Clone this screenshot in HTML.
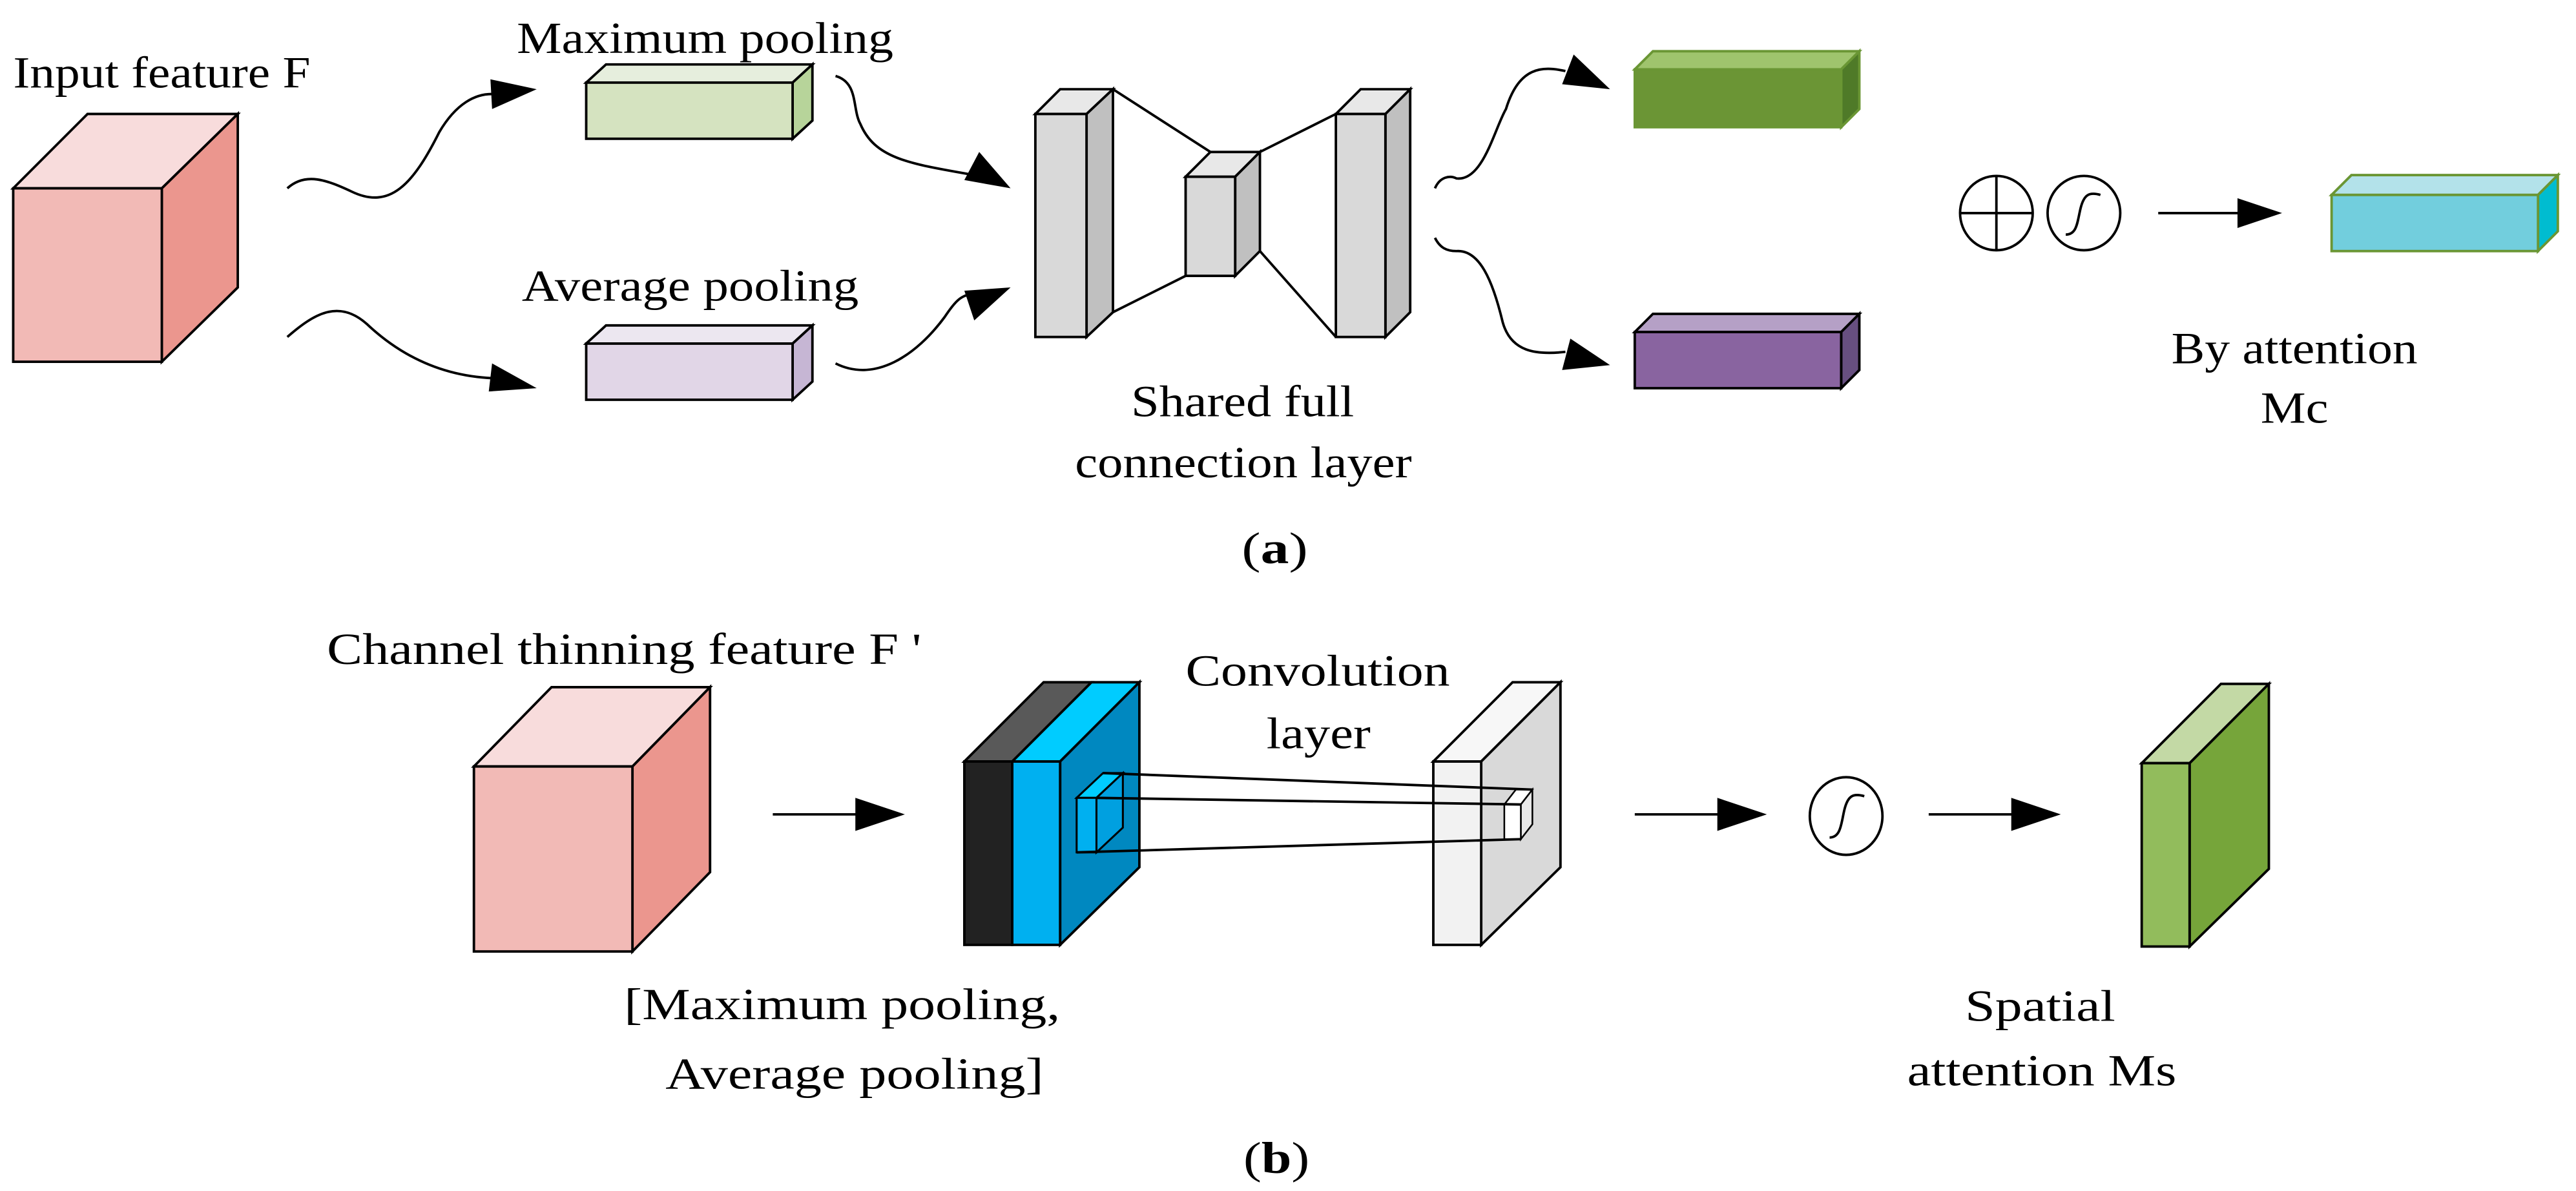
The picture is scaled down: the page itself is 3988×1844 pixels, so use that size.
<!DOCTYPE html>
<html><head><meta charset="utf-8"><style>
html,body{margin:0;padding:0;background:#fff;}
svg{display:block;}
text{font-family:"Liberation Serif","Times New Roman",Times,serif;fill:#000;}
</style></head><body>
<svg width="3988" height="1844" viewBox="0 0 1560 721" preserveAspectRatio="none" xmlns="http://www.w3.org/2000/svg">
<g stroke="#000" stroke-width="1.5" stroke-linejoin="miter">
<polygon points="8,114 53,69 144,69 98,114" fill="#f8dcdc"/>
<polygon points="98,114 144,69 144,174 98,219" fill="#eb968e"/>
<rect x="8" y="114" width="90" height="105" fill="#f2bab6"/>
<polygon points="355,50 367,39 492,39 480,50" fill="#e6eedd"/>
<polygon points="480,50 492,39 492,73 480,84" fill="#b7d49a"/>
<rect x="355" y="50" width="125" height="34" fill="#d5e3c0"/>
<polygon points="355,208 367,197 492,197 480,208" fill="#ece7f0"/>
<polygon points="480,208 492,197 492,231 480,242" fill="#c6b6d4"/>
<rect x="355" y="208" width="125" height="34" fill="#e1d6e7"/>
<polygon points="627,69 642,54 674,54 658,69" fill="#e8e8e8"/>
<polygon points="658,69 674,54 674,189 658,204" fill="#c0c0c0"/>
<rect x="627" y="69" width="31" height="135" fill="#d9d9d9"/>
<polygon points="718,107 733,92 763,92 748,107" fill="#e8e8e8"/>
<polygon points="748,107 763,92 763,152 748,167" fill="#c0c0c0"/>
<rect x="718" y="107" width="30" height="60" fill="#d9d9d9"/>
<polygon points="809,69 824,54 854,54 839,69" fill="#e8e8e8"/>
<polygon points="839,69 854,54 854,189 839,204" fill="#c0c0c0"/>
<rect x="809" y="69" width="30" height="135" fill="#d9d9d9"/>
<g fill="none">
<line x1="674" y1="54" x2="733" y2="92"/>
<line x1="674" y1="189" x2="718" y2="167"/>
<line x1="763" y1="92" x2="809" y2="69"/>
<line x1="763" y1="152" x2="809" y2="204"/>
</g>
<polygon points="990,42 1001,31 1126,31 1115,42" fill="#9fc46d" stroke="#6a9634"/>
<polygon points="1115,42 1126,31 1126,66 1115,77" fill="#4f7a28" stroke="#6a9634"/>
<rect x="990" y="42" width="125" height="35" fill="#6b9535" stroke="#6a9634"/>
<polygon points="990,201 1001,190 1126,190 1115,201" fill="#b5a0c6"/>
<polygon points="1115,201 1126,190 1126,224 1115,235" fill="#674f80"/>
<rect x="990" y="201" width="125" height="34" fill="#8964a0"/>
<polygon points="1412,118 1424,106 1549,106 1537,118" fill="#b3e2ea" stroke="#6a9634"/>
<polygon points="1537,118 1549,106 1549,140 1537,152" fill="#00bcd0" stroke="#6a9634"/>
<rect x="1412" y="118" width="125" height="34" fill="#72cedd" stroke="#6a9634"/>
<ellipse cx="1209" cy="129" rx="22" ry="22.5" fill="none"/>
<line x1="1187" y1="129" x2="1231" y2="129"/>
<line x1="1209" y1="106.5" x2="1209" y2="151.5"/>
<ellipse cx="1262" cy="129" rx="22" ry="22.5" fill="none"/>
<path d="M1251,142 C1258,142 1258,134 1260,126 C1262,118 1265,116 1272,118" fill="none"/>
<line x1="1307" y1="129" x2="1358" y2="129"/>
<g fill="none">
<path d="M174,114 C185,104 198,109 213,116 C236,127 250,112 266,80 C276,63 288,56 300,57"/>
<path d="M174,204 C190,190 205,181 222,196 C240,213 265,228 300,229"/>
<path d="M506,46 C520,50 516,66 521,75 C530,96 550,99 590,106"/>
<path d="M506,220 C530,232 555,215 572,192 C578,183 582,178 590,178"/>
<path d="M869,114 C872,107 878,106 882,108 C898,110 905,78 912,66 C920,40 934,40 948,43"/>
<path d="M869,144 C872,150 876,152 882,152 C896,151 904,170 910,195 C915,213 930,215 948,213"/>
</g>
</g>
<g fill="#000">
<polygon points="325,54 297,48 298,66"/>
<polygon points="325,235 298,220 296,237"/>
<polygon points="612,114 593,92 584,109"/>
<polygon points="612,174 584,176 590,194"/>
<polygon points="975,54 953,33 946,51"/>
<polygon points="975,221 951,205 946,224"/>
<polygon points="1382,129 1355,120 1355,138"/>
</g>
<g stroke="#000" stroke-width="1.5">
<polygon points="287,464 334,416 430,416 383,464" fill="#f8dcdc"/>
<polygon points="383,464 430,416 430,528 383,576" fill="#eb968e"/>
<rect x="287" y="464" width="96" height="112" fill="#f2bab6"/>
<line x1="468" y1="493" x2="522" y2="493"/>
<polygon points="584,461 632,413 661,413 613,461" fill="#595959"/>
<polygon points="613,461 661,413 690,413 642,461" fill="#00ccff"/>
<polygon points="642,461 690,413 690,525 642,572" fill="#0088c0"/>
<rect x="584" y="461" width="29" height="111" fill="#222"/>
<rect x="613" y="461" width="29" height="111" fill="#00b0f0"/>
<polygon points="652,483 668,468 680,468 664,483" fill="#00ccff" stroke-width="1.2"/>
<polygon points="664,483 680,468 680,501 664,516" fill="#00a0e0" stroke-width="1.2"/>
<rect x="652" y="483" width="12" height="33" fill="#00b0f0" stroke-width="1.2"/>
<polygon points="868,461 916,413 945,413 897,461" fill="#f7f7f7"/>
<polygon points="897,461 945,413 945,525 897,572" fill="#d9d9d9"/>
<rect x="868" y="461" width="29" height="111" fill="#f2f2f2"/>
<polygon points="911,487 918,478 928,478 921,487" fill="#fff" stroke-width="1"/>
<polygon points="921,487 928,478 928,499 921,508" fill="#e8e8e8" stroke-width="1"/>
<rect x="911" y="487" width="10" height="21" fill="#fff" stroke-width="1"/>
<g fill="none">
<line x1="668" y1="468" x2="928" y2="478"/>
<line x1="664" y1="483" x2="921" y2="487"/>
<line x1="652" y1="516" x2="921" y2="508"/>
</g>
<line x1="990" y1="493" x2="1044" y2="493"/>
<ellipse cx="1118" cy="494" rx="22" ry="23.5" fill="none"/>
<path d="M1108,507 C1115,507 1115,498 1117,490 C1119,482 1122,480 1129,482" fill="none"/>
<line x1="1168" y1="493" x2="1222" y2="493"/>
<polygon points="1297,462 1345,414 1374,414 1326,462" fill="#c3d9a5"/>
<polygon points="1326,462 1374,414 1374,526 1326,573" fill="#76a53a"/>
<rect x="1297" y="462" width="29" height="111" fill="#92bc5c"/>
</g>
<g fill="#000">
<polygon points="548,493 518,483 518,503"/>
<polygon points="1070,493 1040,483 1040,503"/>
<polygon points="1248,493 1218,483 1218,503"/>
</g>
<g font-size="27" font-family="Liberation Serif, Times New Roman, serif">
<text x="8" y="53" textLength="180" lengthAdjust="spacingAndGlyphs">Input feature F</text>
<text x="313" y="32" textLength="228" lengthAdjust="spacingAndGlyphs">Maximum pooling</text>
<text x="316" y="182" textLength="204" lengthAdjust="spacingAndGlyphs">Average pooling</text>
<text x="685" y="252" textLength="135" lengthAdjust="spacingAndGlyphs">Shared full</text>
<text x="651" y="289" textLength="204" lengthAdjust="spacingAndGlyphs">connection layer</text>
<text x="1315" y="220" textLength="149" lengthAdjust="spacingAndGlyphs">By attention</text>
<text x="1369" y="256" textLength="41" lengthAdjust="spacingAndGlyphs">Mc</text>
<text x="752" y="341" textLength="40" lengthAdjust="spacingAndGlyphs">(<tspan font-weight="bold">a</tspan>)</text>
<text x="198" y="402" textLength="360" lengthAdjust="spacingAndGlyphs">Channel thinning feature F '</text>
<text x="718" y="415" textLength="160" lengthAdjust="spacingAndGlyphs">Convolution</text>
<text x="767" y="453" textLength="63" lengthAdjust="spacingAndGlyphs">layer</text>
<text x="378" y="617" textLength="264" lengthAdjust="spacingAndGlyphs">[Maximum pooling,</text>
<text x="403" y="659" textLength="229" lengthAdjust="spacingAndGlyphs">Average pooling]</text>
<text x="1190" y="618" textLength="91" lengthAdjust="spacingAndGlyphs">Spatial</text>
<text x="1155" y="657" textLength="163" lengthAdjust="spacingAndGlyphs">attention Ms</text>
<text x="753" y="710" textLength="40" lengthAdjust="spacingAndGlyphs">(<tspan font-weight="bold">b</tspan>)</text>
</g>
</svg>
</body></html>
